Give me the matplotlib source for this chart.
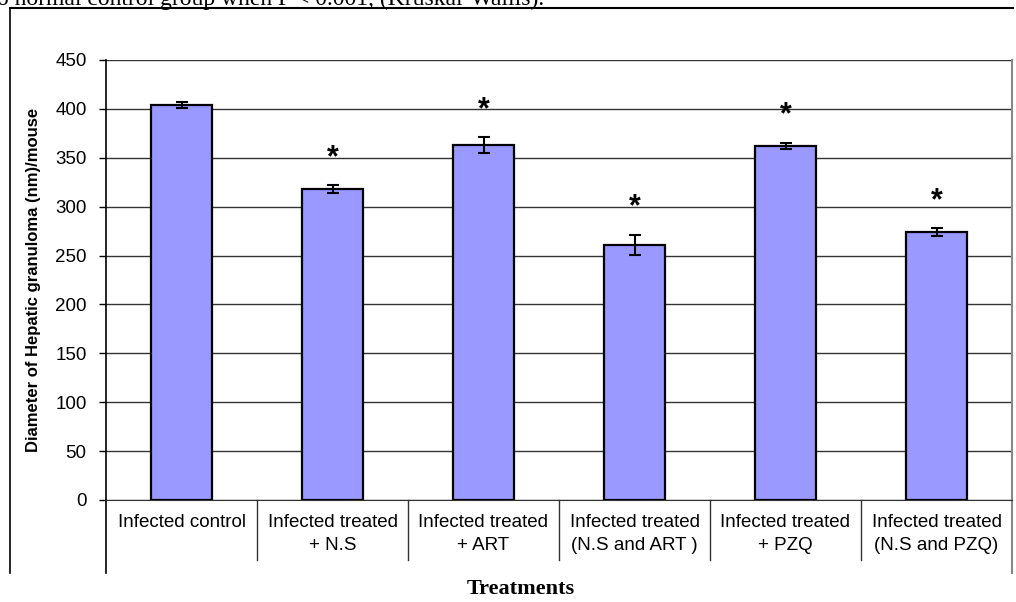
import matplotlib.pyplot as plt
import numpy as np

categories = ["Infected control", "Infected treated\n+ N.S", "Infected treated\n+ ART",
              "Infected treated\n(N.S and ART )", "Infected treated\n+ PZQ",
              "Infected treated\n(N.S and PZQ)"]
values = [404, 318, 363, 261, 362, 274]
errors = [3, 4, 8, 10, 3, 4]
significant = [False, True, True, True, True, True]

W, H = 1016, 602
fig = plt.figure(figsize=(W / 100, H / 100), dpi=100)

def fx(px):
    return px / W

def fy(py):
    return 1 - py / H

# plot area in pixels: left 106, right 1012, top 60, bottom 500
ax = fig.add_axes([fx(106), fy(500), fx(1012) - fx(106), fy(60) - fy(500)])

x = np.arange(len(categories))
ax.bar(x, values, width=0.4, color="#9999FF", edgecolor="black", linewidth=1.6, zorder=3)
ax.errorbar(x, values, yerr=errors, fmt="none", ecolor="black", elinewidth=1.5,
            capsize=4, capthick=1.5, zorder=4)
for xi, v, e, s in zip(x, values, errors, significant):
    if s:
        ax.text(xi, v + e + 28, "*", ha="center", va="center", fontsize=22,
                fontweight="bold", family="Liberation Sans", zorder=5)

ax.set_xlim(-0.5, len(categories) - 0.5)
ax.set_ylim(0, 450)
ax.set_yticks(np.arange(0, 451, 50))
ax.yaxis.grid(True, color="#333333", linewidth=1.0, zorder=0)
ax.set_axisbelow(True)
for lab in ax.get_yticklabels():
    lab.set_family("Liberation Sans")
    lab.set_fontsize(13.5)
ax.tick_params(axis="y", direction="out", length=5, width=1, pad=9)
ax.tick_params(axis="x", length=0, labelbottom=False)

ax.spines["left"].set_linewidth(1.2)
ax.spines["bottom"].set_color("#333333")
ax.spines["top"].set_visible(False)
ax.spines["right"].set_color("#888888")
ax.spines["right"].set_linewidth(1.5)

# category table below the axis
trans = ax.get_xaxis_transform()
sep_drop = 60 / 440
for b in np.arange(0.5, len(categories) - 0.5, 1):
    ax.plot([b, b], [0, -sep_drop], transform=trans, color="#333333", lw=1, clip_on=False)
ax.plot([-0.5, -0.5], [0, -73 / 440], transform=trans, color="black", lw=1.2, clip_on=False)
ax.plot([5.5, 5.5], [0, -73 / 440], transform=trans, color="#888888", lw=1.5, clip_on=False)
for xi, c in zip(x, categories):
    ax.text(xi, -14 / 440, c, transform=trans, ha="center", va="top", fontsize=13.5,
            family="Liberation Sans", linespacing=1.45)

ax.set_ylabel("Diameter of Hepatic granuloma (nm)/mouse", fontsize=12, fontweight="bold",
              family="Liberation Sans", labelpad=10)

# outer frame
fig.add_artist(plt.Line2D([fx(10), fx(10)], [fy(8), fy(573)], color="black", lw=1.2))
fig.add_artist(plt.Line2D([fx(10), fx(1013)], [fy(8), fy(8)], color="black", lw=1.5))

fig.text(fx(521), fy(589), "Treatments", ha="center", va="center", fontsize=16,
         fontweight="bold", family="Liberation Serif")
fig.text(fx(-3), fy(5), "o normal control group when P < 0.001, (Kruskal-Wallis).",
         ha="left", va="baseline", fontsize=17, family="Liberation Serif")

fig.savefig("out.png", dpi=100)
